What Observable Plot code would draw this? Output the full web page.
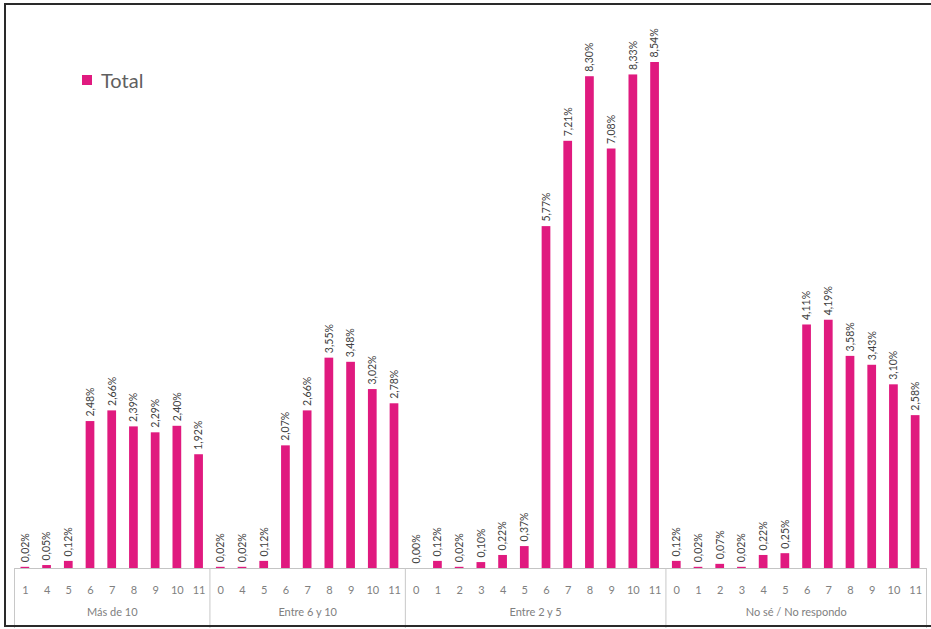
<!DOCTYPE html>
<html>
<head>
<meta charset="utf-8">
<script src="https://cdn.jsdelivr.net/npm/d3@7"></script>
<script src="https://cdn.jsdelivr.net/npm/@observablehq/plot@0.6"></script>
<style>
  html, body { margin: 0; padding: 0; background: #fff; overflow: hidden; }
  #wrap { position: relative; width: 931px; height: 629px; }
  #frame { position: absolute; left: 4px; top: 3px; width: 940px; height: 620px; border: 2px solid #2a2a2a; pointer-events: none; }
  #legend { position: absolute; left: 82px; top: 68px; font-family: Lato, "Open Sans", sans-serif; font-size: 20px; color: #606060; display: flex; align-items: center; }
  #legend .sw { width: 10px; height: 10px; background: #e01a7f; margin-right: 9px; }
</style>
</head>
<body>
<div id="wrap">
  <div id="chart"></div>
  <div id="legend"><span class="sw"></span><span>Total</span></div>
  <div id="frame"></div>
</div>
<script>
const groups = ["Más de 10", "Entre 6 y 10", "Entre 2 y 5", "No sé / No respondo"];
const ticksMasDe10 = ["1", "4", "5", "6", "7", "8", "9", "10", "11"];
const valuesMasDe10 = [0.02, 0.05, 0.12, 2.48, 2.66, 2.39, 2.29, 2.40, 1.92];
const ticksEntre6y10 = ["0", "4", "5", "6", "7", "8", "9", "10", "11"];
const valuesEntre6y10 = [0.02, 0.02, 0.12, 2.07, 2.66, 3.55, 3.48, 3.02, 2.78];
const ticksEntre2y5 = ["0", "1", "2", "3", "4", "5", "6", "7", "8", "9", "10", "11"];
const valuesEntre2y5 = [0.00, 0.12, 0.02, 0.10, 0.22, 0.37, 5.77, 7.21, 8.30, 7.08, 8.33, 8.54];
const ticksNoSe = ["0", "1", "2", "3", "4", "5", "6", "7", "8", "9", "10", "11"];
const valuesNoSe = [0.12, 0.02, 0.07, 0.02, 0.22, 0.25, 4.11, 4.19, 3.58, 3.43, 3.10, 2.58];

const groupTicks = [ticksMasDe10, ticksEntre6y10, ticksEntre2y5, ticksNoSe];
const groupValues = [valuesMasDe10, valuesEntre6y10, valuesEntre2y5, valuesNoSe];

const data = [];
const boundaries = [0];
const groupCenters = [];
groups.forEach((g, gi) => {
  const start = data.length;
  groupTicks[gi].forEach((t, k) => {
    data.push({group: g, tick: t, value: groupValues[gi][k], i: data.length});
  });
  boundaries.push(data.length);
  groupCenters.push({pos: (start + data.length) / 2, label: g});
});
const n = data.length;
const fmt = v => v.toFixed(2).replace(".", ",") + "%";
const color = "#e01a7f";
const font = "Lato, 'Open Sans', sans-serif";

const chart = Plot.plot({
  width: 931,
  height: 629,
  marginLeft: 14,
  marginRight: 5,
  marginTop: 62,
  marginBottom: 61,
  style: {fontFamily: font, background: "transparent"},
  x: {type: "linear", domain: [0, n], axis: null},
  y: {domain: [0, d3.max(data, d => d.value)], axis: null},
  marks: [
    Plot.rectY(data, {x1: "i", x2: d => d.i + 1, y: "value", fill: color, insetLeft: 6.5, insetRight: 6.5}),
    Plot.text(data, {
      x: d => d.i + 0.5, y: "value", text: d => fmt(d.value),
      rotate: -90, textAnchor: "start", dy: -5, dx: 0,
      fontSize: 10.5, fill: "#404040"
    }),
    Plot.ruleY([0], {stroke: "#c4c4c4"}),
    Plot.axisX(boundaries, {tickSize: 60, tickFormat: () => "", stroke: "#c8c8c8", label: null}),
    Plot.axisX(data.map(d => d.i + 0.5), {
      tickSize: 0, tickPadding: 18, label: null,
      tickFormat: v => data[Math.floor(v)].tick,
      fill: "#808080", fontSize: 11
    }),
    Plot.axisX(groupCenters.map(d => d.pos), {
      tickSize: 0, tickPadding: 40, label: null,
      tickFormat: v => groupCenters.find(c => c.pos === v).label,
      fill: "#808080", fontSize: 11
    })
  ]
});
document.getElementById("chart").appendChild(chart);
</script>
</body>
</html>
